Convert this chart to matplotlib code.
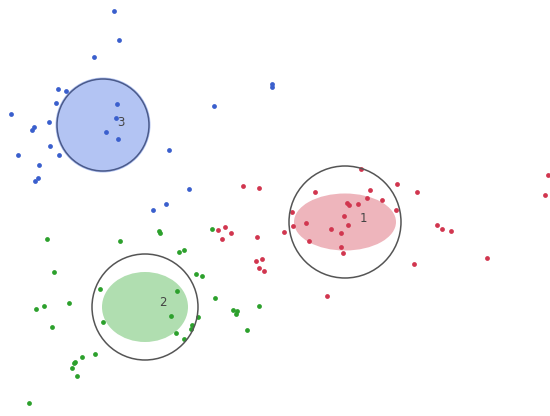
import numpy as np
import matplotlib.pyplot as plt
from matplotlib.patches import Ellipse, Circle

# cluster points (picture coordinates, y grows downwards)
blue_x = [114, 119, 94, 58, 66, 56, 117, 11, 49, 116, 34, 32, 106, 118, 50, 18, 59, 39, 38, 35,
          214, 272, 272, 169, 189, 166, 153]
blue_y = [11, 40, 57, 89, 91, 103, 104, 114, 122, 118, 127, 130, 132, 139, 146, 155, 155, 165, 178, 181,
          106, 84, 87, 150, 189, 204, 210]

red_x = [361, 397, 315, 370, 417, 367, 382, 347, 349, 358, 292, 396, 344, 306, 348, 293, 284, 331, 341,
         437, 442, 451, 309, 341, 343, 414, 487, 548, 545, 327,
         243, 259, 218, 225, 231, 222, 257, 256, 262, 259, 264]
red_y = [169, 184, 192, 190, 192, 198, 200, 203, 205, 204, 212, 210, 216, 223, 225, 226, 232, 229, 233,
         225, 229, 231, 241, 247, 253, 264, 258, 175, 195, 296,
         186, 188, 230, 227, 233, 239, 237, 261, 259, 268, 271]

green_x = [47, 120, 159, 160, 212, 179, 184, 54, 196, 202, 100, 177, 215, 36, 44, 69, 171, 198, 233, 237,
           236, 259, 103, 52, 192, 191, 176, 247, 184, 95, 82, 75, 74, 72, 77, 29]
green_y = [239, 241, 231, 233, 229, 252, 250, 272, 274, 276, 289, 291, 298, 309, 306, 303, 316, 317, 310, 311,
           314, 306, 322, 327, 325, 329, 333, 330, 339, 354, 357, 362, 363, 368, 376, 403]

# cluster summaries: centre, ellipse width/height, circle radius, label
labels = ["1", "2", "3"]
cent_x = [345, 145, 103]
cent_y = [222, 307, 125]
ell_w = [102, 86, 95]
ell_h = [57, 70, 95]
circ_r = [56, 53, 46]
label_x = [363, 163, 121]
label_y = [219, 303, 122]

pt_colors = ["#d1364f", "#2ca02c", "#3a5fcd"]
fill_colors = ["#eeb5bc", "#b0deb0", "#b3c4f3"]
edge_colors = ["#555555", "#555555", "#4a5a8a"]

fig = plt.figure(figsize=(5.5, 4.16), dpi=100)
ax = fig.add_axes([0, 0, 1, 1])
ax.set_xlim(0, 550)
ax.set_ylim(416, 0)
ax.axis("off")

for i in range(3):
    ax.add_patch(Ellipse((cent_x[i], cent_y[i]), ell_w[i], ell_h[i],
                         facecolor=fill_colors[i], edgecolor="none", zorder=1))
    ax.add_patch(Circle((cent_x[i], cent_y[i]), circ_r[i], facecolor="none",
                        edgecolor=edge_colors[i], linewidth=1.1, zorder=3))
    ax.text(label_x[i], label_y[i], labels[i], fontsize=8.5, color="#444444",
            ha="center", va="center", zorder=4)

ax.scatter(red_x, red_y, s=12, color=pt_colors[0], zorder=2, linewidths=0)
ax.scatter(green_x, green_y, s=12, color=pt_colors[1], zorder=2, linewidths=0)
ax.scatter(blue_x, blue_y, s=12, color=pt_colors[2], zorder=2, linewidths=0)

fig.savefig("out.png", dpi=100)
